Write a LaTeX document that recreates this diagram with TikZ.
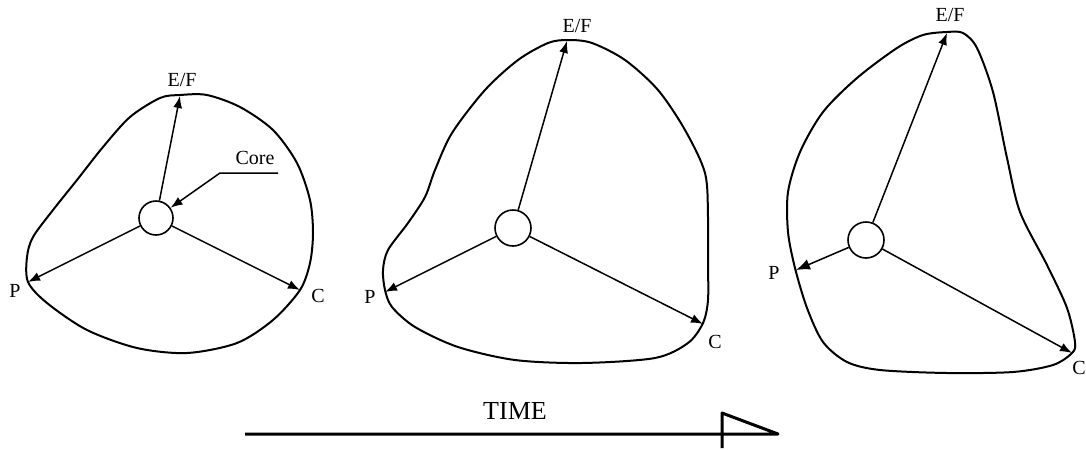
\documentclass[tikz,border=0pt]{standalone}
\usepackage{fontspec}
\setmainfont{Liberation Serif}
\usepackage{tikz}
\usetikzlibrary{arrows.meta}

\begin{document}
\begin{tikzpicture}[x=0.5pt, y=-0.5pt, line join=round,
    blob/.style={line width=1pt},
    ray/.style={-{Latex[length=6pt, width=4.5pt]}, line width=0.75pt},
    hub/.style={draw, circle, line width=0.8pt, inner sep=0pt, fill=white},
    lbl/.style={font=\fontsize{10}{12}\selectfont, inner sep=1pt}]
    \useasboundingbox (0,0) rectangle (1086,450);

    % first stage
    \draw[blob] plot[smooth cycle, tension=0.5] coordinates {
      (180,95) (207,95) (240,107) (273,130) (297,163) (310,200) (313,233)
      (310,263) (300,290) (273,320) (237,343) (187,353) (137,348) (87,330)
      (47,303) (28,282) (27,257) (33,237) (53,210) (77,180) (103,147)
      (130,117) (160,98)};
    \node[hub, minimum size=17pt] (core1) at (156,218) {};
    \coordinate (ef1) at (180,96);
    \coordinate (p1)  at (28,282);
    \coordinate (c1)  at (300,290);
    \draw[ray] (core1) -- (ef1);
    \draw[ray] (core1) -- (p1);
    \draw[ray] (core1) -- (c1);
    \node[lbl] (lef1) at (182,80)  {E/F};
    \node[lbl] (lp1)  at (15,291)  {P};
    \node[lbl] (lc1)  at (318,296) {C};
    % core pointer
    \node[lbl] (lcore) at (255,158) {Core};
    \coordinate (hook) at (278,173);
    \coordinate (bend) at (220,173);
    \draw[ray] (hook) -- (bend) -- (core1);

    % second stage
    \draw[blob] plot[smooth cycle, tension=0.5] coordinates {
      (568,40) (592,43) (625,60) (658,90) (685,130) (705,173) (708,217)
      (708,263) (708,300) (703,323) (688,343) (655,358) (582,363) (515,360)
      (458,347) (415,327) (392,307) (385,290) (383,270) (388,250) (408,223)
      (425,197) (435,170) (452,133) (485,90) (518,60) (548,43)};
    \node[hub, minimum size=18pt] (core2) at (513,228) {};
    \coordinate (ef2) at (567,41);
    \coordinate (p2)  at (385,292);
    \coordinate (c2)  at (703,324);
    \draw[ray] (core2) -- (ef2);
    \draw[ray] (core2) -- (p2);
    \draw[ray] (core2) -- (c2);
    \node[lbl] (lef2) at (577,26)  {E/F};
    \node[lbl] (lp2)  at (370,297) {P};
    \node[lbl] (lc2)  at (715,342) {C};

    % third stage
    \draw[blob] plot[smooth cycle, tension=0.5] coordinates {
      (947,32) (963,33) (977,48) (993,92) (1007,158) (1020,212) (1047,265)
      (1067,308) (1075,342) (1072,353) (1053,365) (1013,372) (947,373)
      (880,370) (847,362) (823,342) (807,308) (795,268) (788,232) (788,192)
      (800,152) (823,112) (857,78) (897,48) (923,35)};
    \node[hub, minimum size=18pt] (core3) at (866,240) {};
    \coordinate (ef3) at (947,33);
    \coordinate (p3)  at (796,270);
    \coordinate (c3)  at (1072,353);
    \draw[ray] (core3) -- (ef3);
    \draw[ray, -{Latex[length=7pt, width=5.5pt]}] (core3) -- (p3);
    \draw[ray] (core3) -- (c3);
    \node[lbl] (lef3) at (950,15)   {E/F};
    \node[lbl] (lp3)  at (774,273)  {P};
    \node[lbl] (lc3)  at (1079,368) {C};

    % time axis
    \node[lbl, font=\fontsize{13}{15}\selectfont] (time) at (515,411) {TIME};
    \coordinate (t0) at (245,434);
    \coordinate (t1) at (778,434);
    \coordinate (tk) at (722,413);
    \coordinate (tb) at (722,448);
    \draw[line width=1.5pt] (t0) -- (t1) -- (tk) -- (tb);
\end{tikzpicture}
\end{document}
